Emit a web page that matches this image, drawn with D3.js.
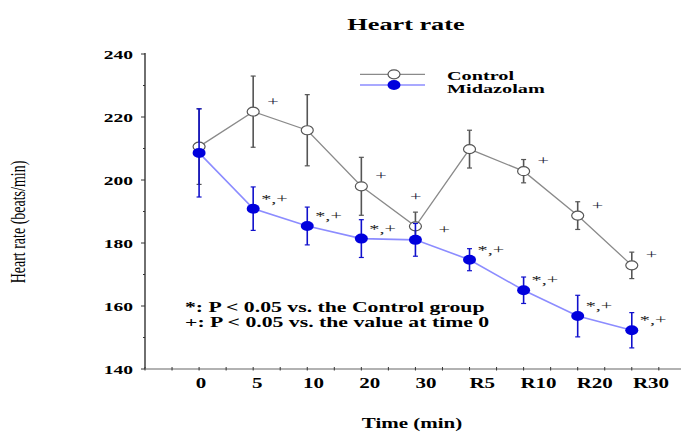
<!DOCTYPE html>
<html>
<head>
<meta charset="utf-8">
<script src="https://cdn.jsdelivr.net/npm/d3@7"></script>
<style>
  html, body { margin: 0; padding: 0; background: #fff; }
  svg { display: block; }
  text { font-family: "Liberation Serif", "Times New Roman", serif; }
</style>
</head>
<body>
<svg id="chart" width="681" height="433"></svg>
<script>
// ---- data ----
const categories = ["0", "5", "10", "20", "30", "R5", "R10", "R20", "R30"];
const controlMean = [210.6, 221.7, 215.8, 198.0, 185.3, 209.8, 202.8, 188.7, 172.9];
const controlSD = [12, 11.3, 11.3, 9.2, 4.5, 6, 3.7, 4.4, 4.2];
const midazolamMean = [208.6, 190.9, 185.4, 181.4, 181.0, 174.7, 165.0, 156.8, 152.3];
const midazolamSD = [14, 6.9, 6, 6, 5.2, 3.5, 4.2, 6.6, 5.6];
const controlMarks = ["", "+", "", "+", "+", "", "+", "+", "+"];
const midazolamMarks = ["", "*,+", "*,+", "*,+", "+", "*,+", "*,+", "*,+", "*,+"];
const yTicks = [140, 160, 180, 200, 220, 240];
const legendLabels = ["Control", "Midazolam"];
const footnotes = ["*: P < 0.05 vs. the Control group", "+: P < 0.05 vs. the value at time 0"];
const titleText = "Heart rate";
const xTitle = "Time (min)";
const yTitle = "Heart rate (beats/min)";

// ---- layout ----
const SX = 1.5; // horizontal stretch of the original figure's text
const svg = d3.select("#chart");
const x = d3.scaleLinear().domain([-1, 8.91]).range([145, 681]);
const xLab = d3.scaleLinear().domain([0, 8]).range([201, 651]);
const y = d3.scaleLinear().domain([140, 240]).range([369, 54]);
const idx = categories.map((_, i) => i);

function stext(g, tx, ty, str, opts) {
  opts = opts || {};
  return g.append("text")
    .attr("transform", `translate(${tx},${ty}) scale(${SX},1)` + (opts.rotate ? ` rotate(${opts.rotate})` : ""))
    .attr("text-anchor", opts.anchor || "start")
    .attr("font-size", opts.size || 14)
    .attr("font-weight", opts.weight || "bold")
    .attr("fill", opts.fill || "#000")
    .text(str);
}

// title
stext(svg, 406, 30, titleText, { anchor: "middle", size: 17.5 });

// y axis
const yAxisG = svg.append("g").attr("transform", "translate(145,0)");
yAxisG.append("line").attr("x1", 0).attr("x2", 0).attr("y1", y(240) - 1).attr("y2", y(140))
  .attr("stroke", "#222").attr("stroke-width", 1.3);
const yMinor = d3.range(140, 241, 10);
yAxisG.selectAll("line.tk").data(yMinor).join("line").attr("class", "tk")
  .attr("x1", d => (d % 20 === 0 ? -4 : -2)).attr("x2", 0)
  .attr("y1", d => y(d)).attr("y2", d => y(d))
  .attr("stroke", "#333").attr("stroke-width", 1);
yTicks.forEach(v => stext(svg, 133, y(v) + 4.5, String(v), { anchor: "end", size: 13 }));

// x axis
const xAxisG = svg.append("g");
xAxisG.append("line").attr("x1", x(-1)).attr("x2", 681).attr("y1", y(140)).attr("y2", y(140))
  .attr("stroke", "#999").attr("stroke-width", 1.3);
xAxisG.selectAll("line.tk").data(d3.range(-1, 8.6, 0.5)).join("line").attr("class", "tk")
  .attr("x1", d => x(d)).attr("x2", d => x(d))
  .attr("y1", y(140) - 2).attr("y2", y(140) + 1.5)
  .attr("stroke", "#333").attr("stroke-width", 1);
categories.forEach((c, i) => stext(svg, xLab(i), 388, c, { anchor: "middle", size: 14 }));

// axis titles
stext(svg, 412, 428, xTitle, { anchor: "middle", size: 14 });
stext(svg, 25, 222, yTitle, { anchor: "middle", size: 14, weight: "normal", rotate: -90 });

// ---- series ----
function drawSeries(mean, sd, lineColor, lineW, errColor) {
  const g = svg.append("g");
  g.append("path").datum(idx)
    .attr("d", d3.line().x(i => x(i)).y(i => y(mean[i])))
    .attr("fill", "none").attr("stroke", lineColor).attr("stroke-width", lineW);
  g.selectAll("line.eb").data(idx).join("line").attr("class", "eb")
    .attr("x1", i => x(i)).attr("x2", i => x(i))
    .attr("y1", i => y(mean[i] + sd[i])).attr("y2", i => y(mean[i] - sd[i]))
    .attr("stroke", errColor).attr("stroke-width", 1.6);
  ["+", "-"].forEach(s => {
    g.selectAll("line.cap" + (s === "+" ? "u" : "d")).data(idx).join("line")
      .attr("class", "cap" + (s === "+" ? "u" : "d"))
      .attr("x1", i => x(i) - 2.5).attr("x2", i => x(i) + 2.5)
      .attr("y1", i => y(s === "+" ? mean[i] + sd[i] : mean[i] - sd[i]))
      .attr("y2", i => y(s === "+" ? mean[i] + sd[i] : mean[i] - sd[i]))
      .attr("stroke", errColor).attr("stroke-width", 1.2);
  });
  return g;
}

const gC = drawSeries(controlMean, controlSD, "#8a8a8a", 1.3, "#555");
gC.selectAll("ellipse").data(idx).join("ellipse")
  .attr("cx", i => x(i)).attr("cy", i => y(controlMean[i]))
  .attr("rx", 6).attr("ry", 4.5)
  .attr("fill", "#fff").attr("stroke", "#555").attr("stroke-width", 1.2);

const gM = drawSeries(midazolamMean, midazolamSD, "#8c8cff", 1.6, "#1010cc");
gM.selectAll("ellipse").data(idx).join("ellipse")
  .attr("cx", i => x(i)).attr("cy", i => y(midazolamMean[i]))
  .attr("rx", 6.5).attr("ry", 5).attr("fill", "#0000dd");

// significance marks
const annG = svg.append("g");
idx.forEach(i => {
  const m = controlMarks[i];
  if (!m) return;
  const px = x(i), py = y(controlMean[i]);
  const above = i === 4;
  stext(annG, above ? px - 5.5 : px + 14, above ? py - 25 : py - 6, m,
    { size: 13.5, weight: "normal", fill: "#1a1a3a" });
});
idx.forEach(i => {
  const m = midazolamMarks[i];
  if (!m) return;
  const px = x(i), py = y(midazolamMean[i]);
  const shift = m === "+" ? 15 : 0;
  stext(annG, px + 8 + shift, py - 6, m, { size: 13.5, weight: "normal", fill: "#222" });
});

// legend
const lg = svg.append("g");
const legendY = [74.3, 85];
lg.append("line").attr("x1", 360).attr("x2", 425).attr("y1", legendY[0]).attr("y2", legendY[0])
  .attr("stroke", "#8a8a8a").attr("stroke-width", 1.3);
lg.append("ellipse").attr("cx", 394).attr("cy", legendY[0]).attr("rx", 6).attr("ry", 4.5)
  .attr("fill", "#fff").attr("stroke", "#555").attr("stroke-width", 1.2);
lg.append("line").attr("x1", 360).attr("x2", 425).attr("y1", legendY[1]).attr("y2", legendY[1])
  .attr("stroke", "#8c8cff").attr("stroke-width", 1.6);
lg.append("ellipse").attr("cx", 394).attr("cy", legendY[1]).attr("rx", 6.5).attr("ry", 5)
  .attr("fill", "#0000dd");
legendLabels.forEach((l, k) => stext(lg, 447, [80, 92.8][k], l, { size: 13.5 }));

// footnotes
footnotes.forEach((f, k) => stext(svg, 185, 312 + k * 15, f, { size: 14.5 }));
</script>
</body>
</html>
